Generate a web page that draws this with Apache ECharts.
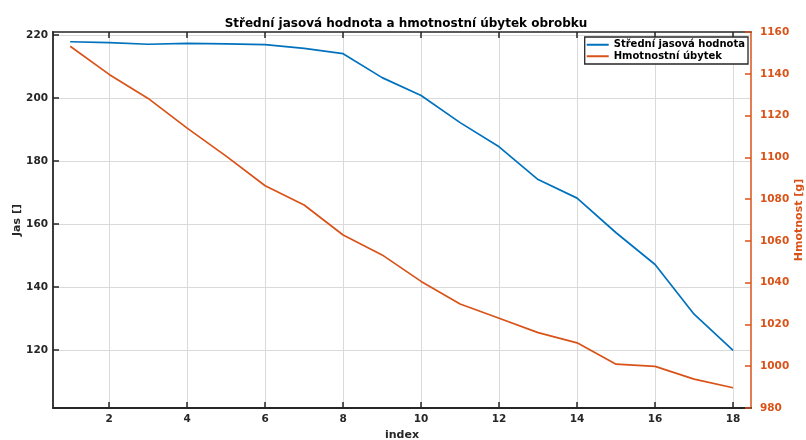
<!DOCTYPE html>
<html><head><meta charset="utf-8">
<script src="https://cdn.jsdelivr.net/npm/echarts@6/dist/echarts.min.js"></script>
<style>html,body{margin:0;padding:0;background:#fff}#c{width:806px;height:440px}</style>
</head><body><div id="c"></div>
<script>
const indexValues = [1,2,3,4,5,6,7,8,9,10,11,12,13,14,15,16,17,18];
const jasValues = [217.9,217.6,217.1,217.4,217.2,217.0,215.8,214.1,206.5,200.8,192.2,184.5,174.1,168.2,157.2,147.1,131.3,119.8];
const hmotnostValues = [1153.2,1139.7,1128.2,1114.0,1100.6,1086.4,1077.2,1062.8,1053.3,1040.6,1029.8,1023.0,1016.1,1011.2,1001.0,999.9,993.8,989.7];
const xTickValues = [2,4,6,8,10,12,14,16,18];
const jasTickValues = [120,140,160,180,200,220];
const seriesNames = ['Střední jasová hodnota','Hmotnostní úbytek'];

const FONT = 'DejaVu Sans';
const DARK = '#262626';
const BLUE = '#0072BD';
const ORANGE = '#D95319';

const chart = echarts.init(document.getElementById('c'), null, {renderer:'canvas'});
const xMin = 0.56, xMax = 18.46;
const plain = v => String(v);
chart.setOption({
  animation:false,
  textStyle:{fontFamily:FONT},
  title:{
    text:'Střední jasová hodnota a hmotnostní úbytek obrobku',
    left:401, textAlign:'center', top:13,
    textStyle:{fontFamily:FONT,fontSize:12,fontWeight:'bold',color:'#000'}
  },
  legend:{
    data:seriesNames, orient:'vertical', right:58, top:37,
    icon:'rect', itemWidth:22, itemHeight:2, itemGap:0,
    padding:[2,3,2,2],
    backgroundColor:'#fff', borderColor:DARK, borderWidth:1.3, borderRadius:0,
    textStyle:{fontFamily:FONT,fontSize:10,fontWeight:'bold',color:'#000',lineHeight:11.5}
  },
  grid:{left:53,right:55,top:32,bottom:32,containLabel:false,outerBoundsMode:'none'},
  xAxis:[{
    type:'value', position:'bottom', min:xMin, max:xMax,
    name:'index', nameLocation:'middle', nameGap:22, nameMoveOverlap:false,
    nameTextStyle:{fontFamily:FONT,fontSize:11,fontWeight:'bold',color:DARK},
    axisLine:{show:true,onZero:false,lineStyle:{color:DARK,width:1.8}},
    axisTick:{show:true,inside:true,length:6,customValues:xTickValues,lineStyle:{color:DARK,width:1.5}},
    axisLabel:{customValues:xTickValues,formatter:plain,margin:6,fontFamily:FONT,fontSize:10.5,fontWeight:'bold',color:DARK},
    splitLine:{show:true,lineStyle:{color:'#dadada',width:1}}
  },{
    type:'value', position:'top', min:xMin, max:xMax,
    axisLine:{show:true,onZero:false,lineStyle:{color:DARK,width:1.5}},
    axisTick:{show:true,inside:true,length:6,customValues:xTickValues,lineStyle:{color:DARK,width:1.5}},
    axisLabel:{show:false},
    splitLine:{show:false}
  }],
  yAxis:[{
    type:'value', position:'left', min:101.5, max:221,
    name:'Jas []', nameLocation:'middle', nameGap:30, nameMoveOverlap:false,
    nameTextStyle:{fontFamily:FONT,fontSize:11,fontWeight:'bold',color:DARK},
    axisLine:{show:true,onZero:false,lineStyle:{color:DARK,width:1.8}},
    axisTick:{show:true,inside:true,length:6,customValues:jasTickValues,lineStyle:{color:DARK,width:1.5}},
    axisLabel:{customValues:jasTickValues,formatter:plain,margin:5,fontFamily:FONT,fontSize:10.5,fontWeight:'bold',color:DARK},
    splitLine:{show:true,lineStyle:{color:'#dadada',width:1}}
  },{
    type:'value', position:'right', min:980, max:1160, interval:20,
    name:'Hmotnost [g]', nameLocation:'middle', nameGap:43, nameMoveOverlap:false,
    nameTextStyle:{fontFamily:FONT,fontSize:11,fontWeight:'bold',color:ORANGE},
    axisLine:{show:true,onZero:false,lineStyle:{color:ORANGE,width:1.5}},
    axisTick:{show:true,inside:true,length:6,lineStyle:{color:ORANGE,width:1.5}},
    axisLabel:{formatter:plain,margin:9,fontFamily:FONT,fontSize:10.5,fontWeight:'bold',color:ORANGE},
    splitLine:{show:false}
  }],
  series:[{
    name:seriesNames[0], type:'line', xAxisIndex:0, yAxisIndex:0,
    data:indexValues.map((x,i)=>[x,jasValues[i]]),
    showSymbol:false, symbol:'none', color:BLUE,
    lineStyle:{color:BLUE,width:1.7}
  },{
    name:seriesNames[1], type:'line', xAxisIndex:0, yAxisIndex:1,
    data:indexValues.map((x,i)=>[x,hmotnostValues[i]]),
    showSymbol:false, symbol:'none', color:ORANGE,
    lineStyle:{color:ORANGE,width:1.7}
  }]
});
</script></body></html>
